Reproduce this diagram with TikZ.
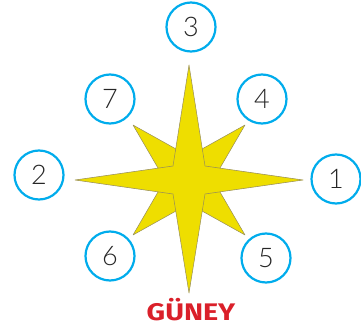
\documentclass[tikz,border=0pt]{standalone}
\usepackage{fontspec}
\setmainfont{Lato}
\newfontfamily\numfont{Lato Light}
\newfontfamily\titlefont{Fira Sans}
\definecolor{ringblue}{RGB}{0,172,236}
\definecolor{staryellow}{RGB}{238,222,0}
\definecolor{staredge}{RGB}{150,140,90}
\definecolor{guneyred}{RGB}{218,32,42}
\tikzset{
  ring/.style={circle, draw=ringblue, line width=2.2pt, minimum size=49pt, inner sep=0pt,
    text=black!85, font=\numfont\fontsize{27}{27}\selectfont},
  starpart/.style={fill=staryellow, draw=staredge, line width=0.5pt, line join=round}
}

\begin{document}
\begin{tikzpicture}[x=1pt,y=-1pt]
\useasboundingbox (0,0) rectangle (361,331);
\begin{scope}[shift={(189,180)}]
\foreach \sx/\sy in {1/1,1/-1,-1/1,-1/-1}
  \filldraw[starpart] (56*\sx,55*\sy) -- (13*\sx,31*\sy) -- (0,0) -- (31*\sx,12*\sy) -- cycle;
\filldraw[starpart] (0,-115) -- (16,-14) -- (114,0) -- (16,14) -- (0,113) -- (-16,14) -- (-114,0) -- (-16,-14) -- cycle;
\end{scope}
\node[ring] (n3) at (191,27) {3};
\node[ring] (n4) at (262,99) {4};
\node[ring] (n1) at (336,179) {1};
\node[ring] (n5) at (266,258) {5};
\node[ring] (n6) at (110,256) {6};
\node[ring] (n2) at (39,175) {2};
\node[ring] (n7) at (110,99) {7};
\node[font=\titlefont\bfseries\fontsize{24}{24}\selectfont, text=guneyred, anchor=base,
  xscale=1.2, transform shape] (guney) at (191,320) {GÜNEY};
\end{tikzpicture}
\end{document}
